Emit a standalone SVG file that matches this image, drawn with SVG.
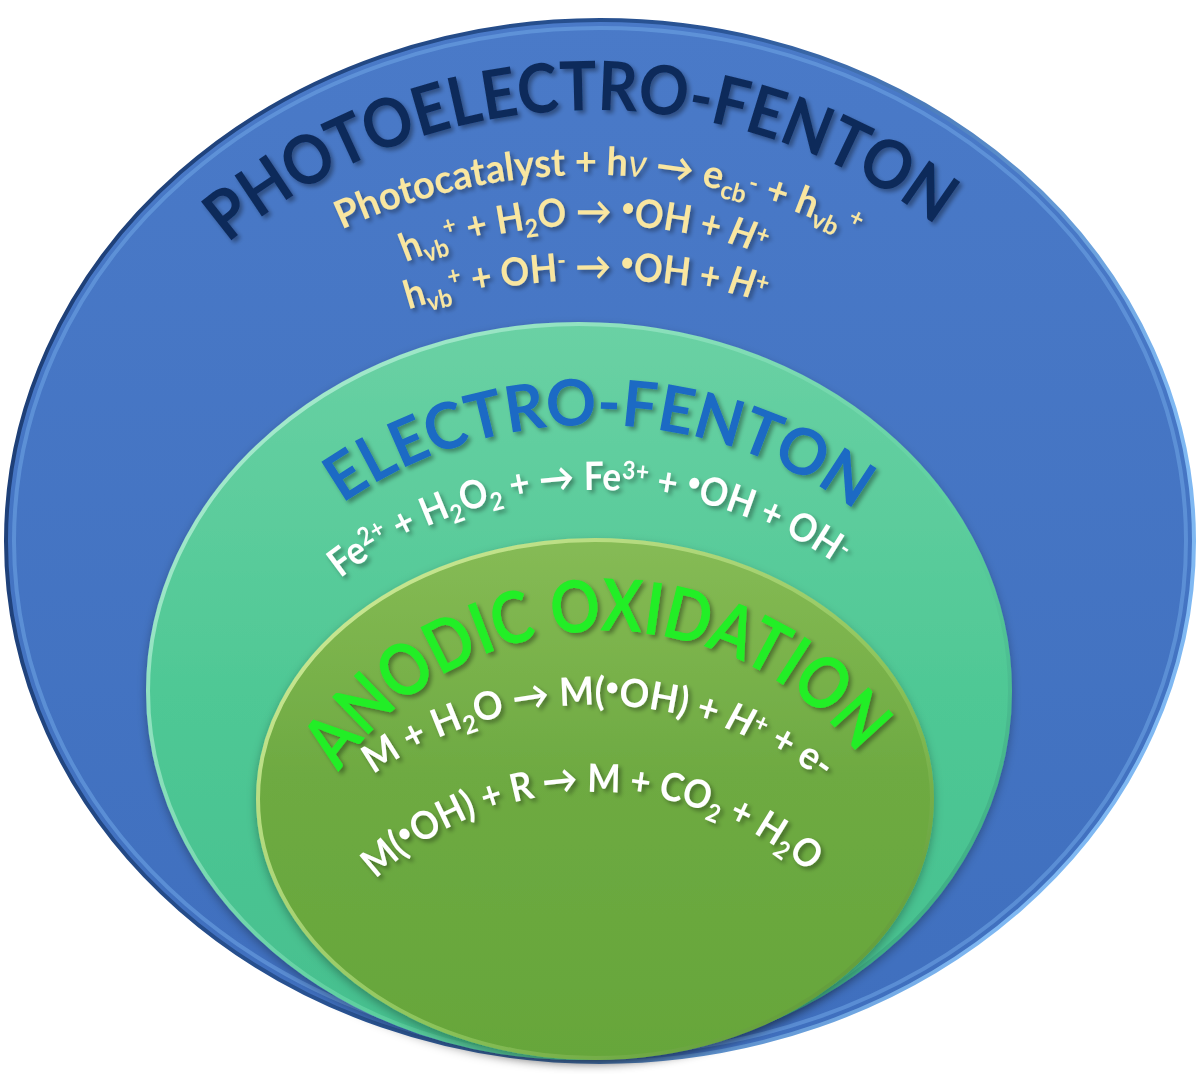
<svg xmlns="http://www.w3.org/2000/svg" xmlns:xlink="http://www.w3.org/1999/xlink" width="1200" height="1079" viewBox="0 0 1200 1079">
<defs>
<style>
.t{font-family:Lato,"Liberation Sans","DejaVu Sans",sans-serif;font-weight:bold;}
.title1{fill:#0e2a5a;font-size:68px;}
.yel{fill:#f9e6a0;font-size:39px;}
.title2{fill:#1a6ac4;font-size:64px;}
.wht{fill:#ffffff;font-size:39px;}
.title3{fill:#22ee26;font-size:72px;}
.sm{font-size:25px;}
</style>
<filter id="sh" x="-10%" y="-10%" width="120%" height="130%">
<feDropShadow dx="3" dy="3" stdDeviation="2" flood-color="#000" flood-opacity="0.35"/>
</filter>
<filter id="esh" x="-5%" y="-5%" width="110%" height="115%">
<feDropShadow dx="0" dy="4" stdDeviation="5" flood-color="#000" flood-opacity="0.3"/>
</filter>
<linearGradient id="gBlue" x1="0" y1="0" x2="0" y2="1">
<stop offset="0" stop-color="#4a7ac8"/>
<stop offset="1" stop-color="#3f6fbe"/>
</linearGradient>
<linearGradient id="gBlueRim" x1="0" y1="0" x2="1" y2="0.3">
<stop offset="0" stop-color="#1b3a70"/>
<stop offset="0.55" stop-color="#2a5596"/>
<stop offset="1" stop-color="#7fb8f2"/>
</linearGradient>
<linearGradient id="gTeal" x1="0" y1="0" x2="0" y2="1">
<stop offset="0" stop-color="#6ad1a4"/>
<stop offset="0.5" stop-color="#4fc895"/>
<stop offset="1" stop-color="#45bf8e"/>
</linearGradient>
<linearGradient id="gTealRim" x1="0" y1="0" x2="1" y2="1">
<stop offset="0" stop-color="#b8f0d8"/>
<stop offset="0.6" stop-color="#5ccf9e"/>
<stop offset="1" stop-color="#2f9d78"/>
</linearGradient>
<linearGradient id="gGreen" x1="0" y1="0" x2="0" y2="1">
<stop offset="0" stop-color="#86bb55"/>
<stop offset="0.45" stop-color="#6eaa42"/>
<stop offset="1" stop-color="#66a63a"/>
</linearGradient>
<linearGradient id="gGreenRim" x1="0" y1="0" x2="1" y2="1">
<stop offset="0" stop-color="#d8f0a0"/>
<stop offset="0.6" stop-color="#8cc35a"/>
<stop offset="1" stop-color="#4e8a2c"/>
</linearGradient>
<path id="p-title1" d="M 26 677 A 567 567 0 0 1 1160 677"/>
<path id="p-l1" d="M -2 767 A 592 592 0 0 1 1182 767"/>
<path id="p-l2" d="M 95 725 A 500 500 0 0 1 1095 725"/>
<path id="p-l3" d="M -40 920 A 640 640 0 0 1 1240 920"/>
<path id="p-title2" d="M 152 867 A 442 442 0 0 1 1036 867"/>
<path id="p-fe" d="M 178 910 A 420 420 0 0 1 1018 910"/>
<path id="p-title3" d="M 284 952 A 321 321 0 0 1 926 952"/>
<path id="p-m1" d="M 209 1090 A 385 385 0 0 1 979 1090"/>
<path id="p-m2" d="M 274 1114 A 322 322 0 0 1 918 1114"/>
</defs>

<g id="node-photoelectro-fenton">
<ellipse cx="600" cy="541" rx="594" ry="521" fill="url(#gBlue)" stroke="url(#gBlueRim)" stroke-width="4"/>
<ellipse cx="600" cy="541" rx="586" ry="513" fill="none" stroke="#6fa6e6" stroke-width="4" opacity="0.55"/>
<text class="t title1" filter="url(#sh)"><textPath xlink:href="#p-title1" href="#p-title1" startOffset="49.2%" text-anchor="middle" textLength="765" lengthAdjust="spacingAndGlyphs">PHOTOELECTRO-FENTON</textPath></text>
<text class="t yel" filter="url(#sh)"><textPath xlink:href="#p-l1" href="#p-l1" startOffset="50.5%" text-anchor="middle" textLength="531" lengthAdjust="spacingAndGlyphs">Photocatalyst + h<tspan font-style="italic" font-weight="normal">ν</tspan> → e<tspan class="sm" baseline-shift="-8px">cb</tspan><tspan class="sm" baseline-shift="6px">-</tspan> + h<tspan class="sm" baseline-shift="-8px">vb</tspan><tspan class="sm" baseline-shift="10px"> +</tspan></textPath></text>
<text class="t yel" filter="url(#sh)"><textPath xlink:href="#p-l2" href="#p-l2" startOffset="49.3%" text-anchor="middle" textLength="366" lengthAdjust="spacingAndGlyphs">h<tspan class="sm" baseline-shift="-8px">vb</tspan><tspan class="sm" baseline-shift="12px">+</tspan> + H<tspan class="sm" baseline-shift="-8px">2</tspan>O → <tspan class="sm" baseline-shift="10px">•</tspan>OH + <tspan font-style="italic">H</tspan><tspan class="sm" baseline-shift="10px">+</tspan></textPath></text>
<text class="t yel" filter="url(#sh)"><textPath xlink:href="#p-l3" href="#p-l3" startOffset="49.3%" text-anchor="middle" textLength="361" lengthAdjust="spacingAndGlyphs">h<tspan class="sm" baseline-shift="-8px">vb</tspan><tspan class="sm" baseline-shift="12px">+</tspan> + OH<tspan class="sm" baseline-shift="12px">-</tspan> → <tspan class="sm" baseline-shift="10px">•</tspan>OH + <tspan font-style="italic">H</tspan><tspan class="sm" baseline-shift="10px">+</tspan></textPath></text>
</g>

<g id="node-electro-fenton">
<ellipse cx="579" cy="691" rx="431" ry="367" fill="url(#gTeal)" stroke="url(#gTealRim)" stroke-width="4" filter="url(#esh)"/>
<text class="t title2" filter="url(#sh)"><textPath xlink:href="#p-title2" href="#p-title2" startOffset="50.4%" text-anchor="middle" textLength="547" lengthAdjust="spacingAndGlyphs">ELECTRO-FENTON</textPath></text>
<text class="t wht" filter="url(#sh)"><textPath xlink:href="#p-fe" href="#p-fe" startOffset="49.2%" text-anchor="middle" textLength="534" lengthAdjust="spacingAndGlyphs">Fe<tspan class="sm" baseline-shift="12px">2+</tspan> + H<tspan class="sm" baseline-shift="-8px">2</tspan>O<tspan class="sm" baseline-shift="-8px">2</tspan> + → Fe<tspan class="sm" baseline-shift="12px">3+</tspan> + <tspan class="sm" baseline-shift="10px">•</tspan>OH + OH<tspan class="sm" baseline-shift="10px">-</tspan></textPath></text>
</g>

<g id="node-anodic-oxidation">
<ellipse cx="595" cy="799" rx="337" ry="259" fill="url(#gGreen)" stroke="url(#gGreenRim)" stroke-width="4" filter="url(#esh)"/>
<text class="t title3" filter="url(#sh)"><textPath xlink:href="#p-title3" href="#p-title3" startOffset="48.9%" text-anchor="middle" textLength="604" lengthAdjust="spacingAndGlyphs">ANODIC OXIDATION</textPath></text>
<text class="t wht" filter="url(#sh)"><textPath xlink:href="#p-m1" href="#p-m1" startOffset="50.4%" text-anchor="middle" textLength="480" lengthAdjust="spacingAndGlyphs">M + H<tspan class="sm" baseline-shift="-8px">2</tspan>O → M(<tspan class="sm" baseline-shift="10px">•</tspan>OH) + <tspan font-style="italic">H</tspan><tspan class="sm" baseline-shift="10px">+</tspan> + e-</textPath></text>
<text class="t wht" filter="url(#sh)"><textPath xlink:href="#p-m2" href="#p-m2" startOffset="49.5%" text-anchor="middle" textLength="475" lengthAdjust="spacingAndGlyphs">M(<tspan class="sm" baseline-shift="10px">•</tspan>OH) + R → M + CO<tspan class="sm" baseline-shift="-8px">2</tspan> + H<tspan class="sm" baseline-shift="-8px">2</tspan>O</textPath></text>
</g>

<g id="connectors"/>
</svg>
